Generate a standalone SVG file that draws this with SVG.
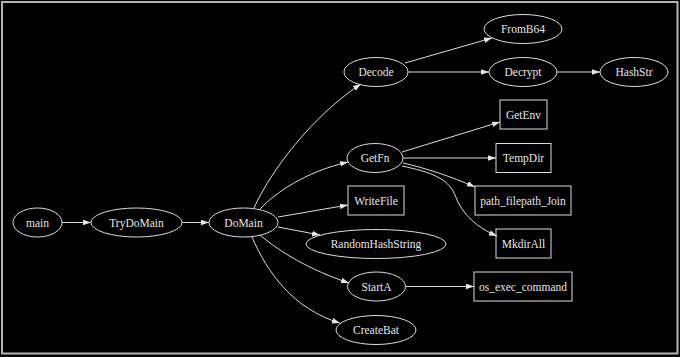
<svg xmlns="http://www.w3.org/2000/svg" width="680" height="357" viewBox="0 0 680 357">
<style>
.n ellipse, .n rect { fill: none; stroke: #dddddd; stroke-width: 1; }
.n text { font-family: 'Liberation Serif', 'Times New Roman', serif; font-size: 11.5px; fill: #e6e6e6; text-anchor: middle; }
#edges path { fill: none; stroke: #dddddd; stroke-width: 1; marker-end: url(#arr); }
</style>
<defs>
<marker id="arr" markerUnits="userSpaceOnUse" viewBox="0 0 8 6" refX="8" refY="3" markerWidth="8" markerHeight="6" orient="auto">
<path d="M0,0.2 L8,3 L0,5.8 z" fill="#e6e6e6"/>
</marker>
</defs>
<rect x="0" y="0" width="680" height="357" fill="#000"/>
<rect x="2" y="2" width="675.5" height="351.5" fill="none" stroke="#b4b4b4" stroke-width="2"/>
<g id="edges">
<path d="M62,222.5 L91,222.5"/>
<path d="M182,222.5 L209,222.5"/>
<path d="M254,208 C270,172 312,116 361,84"/>
<path d="M260,209 C275,193 305,172 348,162"/>
<path d="M278,217 L348,205"/>
<path d="M278,227 L320,235"/>
<path d="M260,235 C280,252 310,270 349,283"/>
<path d="M252,237 C267,272 293,309 340,323"/>
<path d="M405,63 L492,38"/>
<path d="M408,72 L489,72"/>
<path d="M557,72 L600,72"/>
<path d="M402,152 L500,122"/>
<path d="M403,158 L496,158"/>
<path d="M403,163 C425,168 450,176 475,187"/>
<path d="M402,166 C430,172 448,178 455,195 C462,215 478,228 497,236"/>
<path d="M406,286.5 L474,286.5"/>
</g>
<g font-family="Liberation Serif, serif">
<g id="main" class="n"><ellipse cx="37.5" cy="222.5" rx="24.5" ry="14.5"/><text x="37.5" y="226.5">main</text></g>
<g id="TryDoMain" class="n"><ellipse cx="136.5" cy="222.5" rx="45.5" ry="14.5"/><text x="136.5" y="226.5">TryDoMain</text></g>
<g id="DoMain" class="n"><ellipse cx="243.5" cy="222.5" rx="34.5" ry="14.5"/><text x="243.5" y="226.5">DoMain</text></g>
<g id="Decode" class="n"><ellipse cx="376" cy="72" rx="32" ry="14.5"/><text x="376" y="76">Decode</text></g>
<g id="FromB64" class="n"><ellipse cx="523" cy="29" rx="39" ry="14.5"/><text x="523" y="33">FromB64</text></g>
<g id="Decrypt" class="n"><ellipse cx="523" cy="72" rx="34" ry="14.5"/><text x="523" y="76">Decrypt</text></g>
<g id="HashStr" class="n"><ellipse cx="634" cy="72" rx="34" ry="14.5"/><text x="634" y="76">HashStr</text></g>
<g id="GetFn" class="n"><ellipse cx="375" cy="158" rx="28" ry="14.5"/><text x="375" y="162">GetFn</text></g>
<g id="GetEnv" class="n"><rect x="500" y="100" width="47" height="29"/><text x="523.5" y="118.5">GetEnv</text></g>
<g id="TempDir" class="n"><rect x="496" y="143.5" width="55" height="29"/><text x="523.5" y="162">TempDir</text></g>
<g id="path_filepath_Join" class="n"><rect x="475" y="186" width="96" height="29"/><text x="523" y="204.5">path_filepath_Join</text></g>
<g id="WriteFile" class="n"><rect x="348" y="186" width="56" height="29"/><text x="376" y="204.5">WriteFile</text></g>
<g id="RandomHashString" class="n"><ellipse cx="376" cy="244" rx="70" ry="14.5"/><text x="376" y="248">RandomHashString</text></g>
<g id="MkdirAll" class="n"><rect x="496" y="229" width="55" height="29"/><text x="523.5" y="247.5">MkdirAll</text></g>
<g id="StartA" class="n"><ellipse cx="376.5" cy="286.5" rx="29" ry="14.5"/><text x="376.5" y="290.5">StartA</text></g>
<g id="os_exec_command" class="n"><rect x="474" y="272" width="98" height="29"/><text x="523" y="290.5">os_exec_command</text></g>
<g id="CreateBat" class="n"><ellipse cx="376" cy="330" rx="40" ry="14.5"/><text x="376" y="334">CreateBat</text></g>
</g>
</svg>
